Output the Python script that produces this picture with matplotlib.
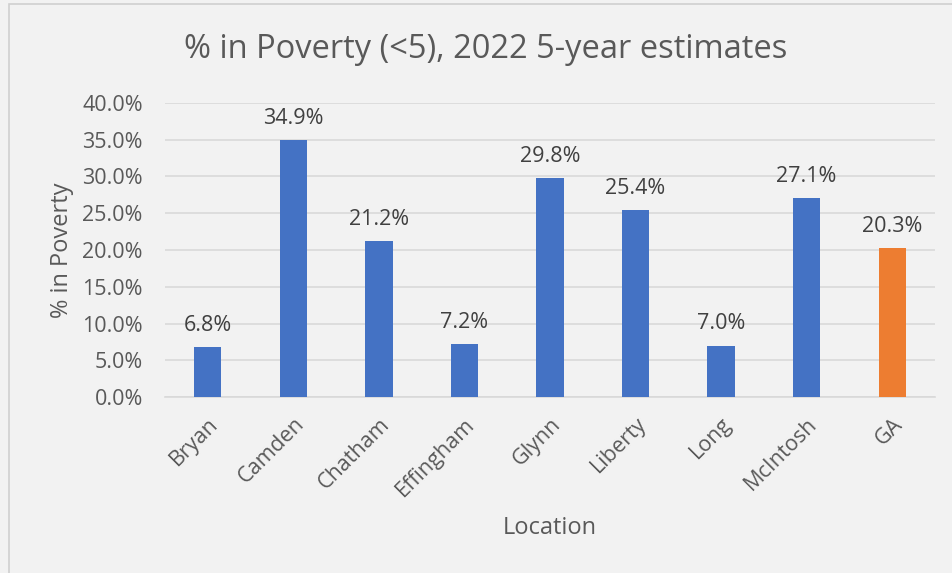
import matplotlib.pyplot as plt
import numpy as np
from matplotlib.patches import Rectangle

locations = ['Bryan', 'Camden', 'Chatham', 'Effingham', 'Glynn', 'Liberty', 'Long', 'McIntosh', 'GA']
poverty = [6.8, 34.9, 21.2, 7.2, 29.8, 25.4, 7.0, 27.1, 20.3]
bar_colors = ['#4472C4'] * 8 + ['#ED7D31']
y_ticks = [0, 5, 10, 15, 20, 25, 30, 35, 40]

plt.rcParams['font.family'] = ['Open Sans', 'DejaVu Sans']
text_col = '#595959'

W, H = 952, 573
fig = plt.figure(figsize=(W / 100, H / 100), dpi=100)
fig.patch.set_facecolor('#F2F2F2')

# chart frame (only left/top visible in the crop)
fig.patches.append(Rectangle((9 / W, -0.1), 1.2, 1 - 4 / H + 0.1, transform=fig.transFigure,
                             fill=False, edgecolor='#D0D0D0', linewidth=1.2))

ax = fig.add_axes([165 / W, 1 - 397 / H, (935 - 165) / W, (397 - 103) / H])
ax.set_facecolor('#F2F2F2')

x = np.arange(len(locations))
ax.bar(x, poverty, width=0.32, color=bar_colors, zorder=3)

for xi, v in zip(x, poverty):
    ax.annotate(f'{v:.1f}%', (xi, v), textcoords='offset points', xytext=(0, 8),
                ha='center', va='bottom', fontsize=15.5, color='#404040')

ax.set_xlim(-0.5, len(locations) - 0.5)
ax.set_ylim(0, 40)
ax.set_yticks(y_ticks)
ax.set_yticklabels([f'{t:.1f}%' for t in y_ticks], fontsize=15.5, color=text_col)
ax.yaxis.grid(True, color='#D9D9D9', linewidth=1.2, zorder=0)
ax.set_axisbelow(True)

ax.set_xticks(x)
ax.set_xticklabels(locations, rotation=45, ha='right', rotation_mode='anchor',
                   fontsize=15.5, color=text_col)
ax.tick_params(axis='y', length=0, pad=16)
ax.tick_params(axis='x', length=0, pad=12)

for s in ['top', 'right', 'left']:
    ax.spines[s].set_visible(False)
ax.spines['bottom'].set_color('#D9D9D9')
ax.spines['bottom'].set_linewidth(1.2)

fig.text(62 / W, 1 - 250 / H, '% in Poverty', rotation=90, ha='center', va='center',
         fontsize=17, color=text_col)
fig.text(550 / W, 1 - 528 / H, 'Location', ha='center', va='center', fontsize=17, color=text_col)
fig.text(486 / W, 1 - 50 / H, '% in Poverty (<5), 2022 5-year estimates', ha='center', va='center',
         fontsize=23.5, color=text_col)

fig.savefig('out.png', dpi=100, facecolor=fig.get_facecolor())
